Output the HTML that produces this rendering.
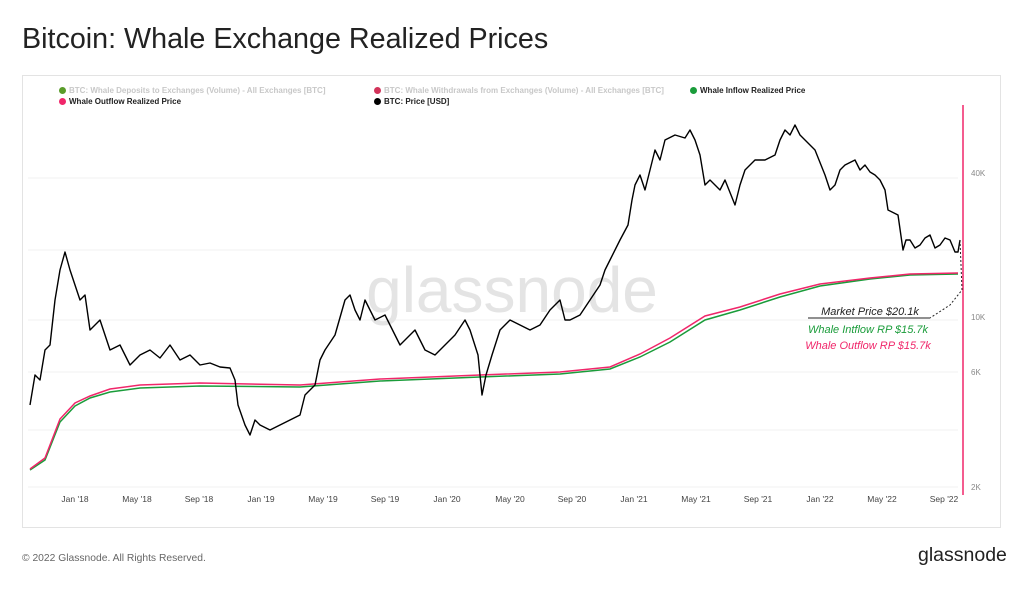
<!DOCTYPE html><html><head><style>
body{margin:0;width:1024px;height:590px;background:#fff;font-family:"Liberation Sans",sans-serif;position:relative;overflow:hidden}
.t{position:absolute;left:22px;top:23px;font-size:28.7px;color:#222}
.box{position:absolute;left:22px;top:75px;width:977px;height:451px;border:1px solid #e3e3e3}
.lg{position:absolute;font-size:8px;font-weight:bold;color:#222}
.lg i{display:inline-block;width:7px;height:7px;border-radius:50%;margin-right:3px;vertical-align:-1px}
.g{color:#c8c8c8}
.ft{position:absolute;left:22px;top:553px;font-size:10.3px;color:#666}
.lo{position:absolute;left:918px;top:544px;font-size:19.5px;color:#222}
</style></head><body>
<div class="t">Bitcoin: Whale Exchange Realized Prices</div>
<div class="box"></div>
<div class="lg g" style="left:59px;top:86px"><i style="background:#5a9c2a"></i>BTC: Whale Deposits to Exchanges (Volume) - All Exchanges [BTC]</div>
<div class="lg g" style="left:374px;top:86px"><i style="background:#d2335a"></i>BTC: Whale Withdrawals from Exchanges (Volume) - All Exchanges [BTC]</div>
<div class="lg" style="left:690px;top:86px"><i style="background:#1a9c3a"></i>Whale Inflow Realized Price</div>
<div class="lg" style="left:59px;top:97px"><i style="background:#f0266a"></i>Whale Outflow Realized Price</div>
<div class="lg" style="left:374px;top:97px"><i style="background:#000"></i>BTC: Price [USD]</div>
<svg width="1024" height="590" style="position:absolute;left:0;top:0" font-family="Liberation Sans,sans-serif">
<g stroke="#f0f0f0"><line x1="28" x2="958" y1="178" y2="178"/><line x1="28" x2="958" y1="250" y2="250"/><line x1="28" x2="958" y1="320" y2="320"/><line x1="28" x2="958" y1="372" y2="372"/><line x1="28" x2="958" y1="430" y2="430"/><line x1="28" x2="958" y1="487" y2="487"/></g>
<text x="512" y="312" font-size="64" fill="#e4e4e4" text-anchor="middle">glassnode</text>
<line x1="963" y1="105" x2="963" y2="495" stroke="#f0266a" stroke-width="1.5"/>
<g font-size="8" fill="#888"><text x="971" y="176">40K</text><text x="971" y="320">10K</text><text x="971" y="375">6K</text><text x="971" y="490">2K</text></g>
<g font-size="8.5" fill="#444" text-anchor="middle"><text x="75" y="502">Jan '18</text><text x="137" y="502">May '18</text><text x="199" y="502">Sep '18</text><text x="261" y="502">Jan '19</text><text x="323" y="502">May '19</text><text x="385" y="502">Sep '19</text><text x="447" y="502">Jan '20</text><text x="510" y="502">May '20</text><text x="572" y="502">Sep '20</text><text x="634" y="502">Jan '21</text><text x="696" y="502">May '21</text><text x="758" y="502">Sep '21</text><text x="820" y="502">Jan '22</text><text x="882" y="502">May '22</text><text x="944" y="502">Sep '22</text></g>
<polyline fill="none" stroke="#1a9c3a" stroke-width="1.5" points="30,470 45,460 60,422 75,406 90,398 110,392 140,388 200,386 300,387 380,381 480,377 560,374 610,369 640,357 670,342 705,320 740,310 780,297 820,286 870,279 910,275 958,274"/>
<polyline fill="none" stroke="#f0266a" stroke-width="1.5" points="30,469 45,458 60,419 75,403 90,396 110,389 140,385 200,383 300,385 380,379 480,375 560,372 610,367 640,354 670,338 705,316 740,307 780,294 820,284 870,278 910,274 958,273"/>
<polyline fill="none" stroke="#000" stroke-width="1.4" stroke-linejoin="round" points="30,405 35,375 40,380 45,350 50,345 55,300 60,270 65,252 70,270 75,285 80,300 85,295 90,330 100,320 110,350 120,345 130,365 140,355 150,350 160,358 170,345 180,360 190,355 200,365 210,363 220,367 230,368 235,380 238,405 245,425 250,435 255,420 260,425 270,430 280,425 290,420 300,415 305,395 315,385 320,360 325,350 335,335 345,300 350,295 355,310 360,320 365,300 375,320 385,315 395,335 400,345 405,340 415,330 425,350 435,355 445,345 455,335 465,320 470,330 478,355 482,395 486,375 492,355 500,330 510,320 520,325 530,330 540,325 550,310 560,300 565,320 570,320 580,315 590,300 600,285 605,270 610,260 620,240 628,225 632,200 635,185 640,175 645,190 650,170 655,150 660,160 665,140 675,135 685,138 690,130 695,140 700,155 705,185 710,180 715,185 720,190 725,180 735,205 740,185 745,170 755,160 765,160 775,155 780,140 785,130 790,135 795,125 800,135 805,140 815,150 825,175 830,190 835,185 840,170 845,165 855,160 860,170 865,165 870,172 875,175 880,180 885,190 888,210 898,215 903,250 906,240 910,240 915,248 920,245 925,238 930,235 935,248 940,245 945,238 950,240 955,252 958,252 960,240"/>
<polyline fill="none" stroke="#222" stroke-dasharray="2,2" points="960,240 962,290 950,305 930,318"/>
<line x1="808" y1="318" x2="930" y2="318" stroke="#222"/>
<g font-size="11" font-style="italic" text-anchor="middle"><text x="870" y="315" fill="#222">Market Price $20.1k</text><text x="868" y="333" fill="#1a9c3a">Whale Intflow RP $15.7k</text><text x="868" y="349" fill="#f0266a">Whale Outflow RP $15.7k</text></g>
</svg>
<div class="ft">© 2022 Glassnode. All Rights Reserved.</div>
<div class="lo">glassnode</div>
</body></html>
